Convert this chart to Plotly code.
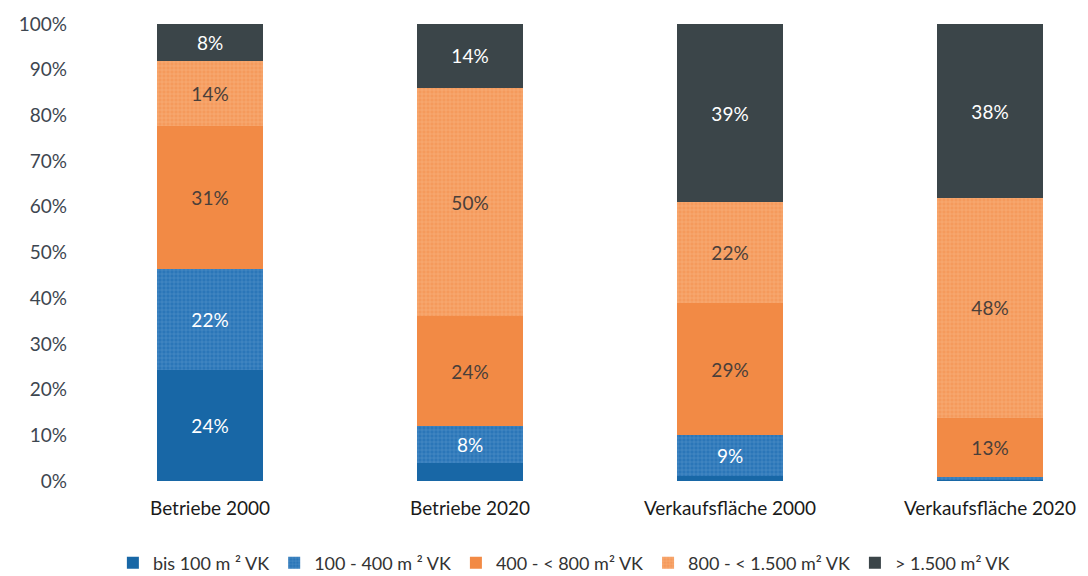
import plotly.graph_objects as go

categories = ["Betriebe 2000", "Betriebe 2020", "Verkaufsfläche 2000", "Verkaufsfläche 2020"]
bis100 = [24, 4, 1, 0.3]
v100_400 = [22, 8, 9, 0.5]
v400_800 = [31, 24, 29, 13]
v800_1500 = [14, 50, 22, 48]
ueber1500 = [8, 14, 39, 38]
series_names = ["bis 100 m ² VK", "100 - 400 m ² VK", "400 - < 800 m² VK",
                "800 - < 1.500 m² VK", "> 1.500 m² VK"]
tick_vals = [0, 10, 20, 30, 40, 50, 60, 70, 80, 90, 100]
tick_text = [f"{v}%" for v in tick_vals]

FONT = "Lato, Open Sans, sans-serif"

def labels(vals):
    return [f"{v:g}%" if v >= 5 else "" for v in vals]

styles = [
    dict(color="#1867A6", pattern=None, tc="white"),
    dict(color="#2B76B8", pattern=dict(shape="+", fgcolor="#7FB0DE", bgcolor="#2B76B8", size=4, solidity=0.25), tc="white"),
    dict(color="#F28A45", pattern=None, tc="#4a3f3a"),
    dict(color="#F59A5C", pattern=dict(shape="+", fgcolor="#FBC59A", bgcolor="#F59A5C", size=4, solidity=0.3), tc="#4a3f3a"),
    dict(color="#3B4549", pattern=None, tc="white"),
]

L, R, T, B = 68, 8, 24, 95

fig = go.Figure()
for name, vals, st in zip(series_names, [bis100, v100_400, v400_800, v800_1500, ueber1500], styles):
    marker = dict(color=st["color"], line=dict(width=0))
    if st["pattern"]:
        marker["pattern"] = st["pattern"]
    fig.add_trace(go.Bar(
        x=categories, y=vals, name=name, marker=marker, width=0.404,
        text=labels(vals), textposition="inside", insidetextanchor="middle",
        textangle=0, textfont=dict(family=FONT, size=19, color=st["tc"]),
        hoverinfo="skip",
    ))

fig.update_layout(
    width=1088, height=576,
    barmode="stack", barnorm="percent",
    plot_bgcolor="white", paper_bgcolor="white",
    margin=dict(l=L, r=R, t=T, b=B),
    font=dict(family=FONT, size=19, color="#3a3a3a"),
    uniformtext=dict(mode="show", minsize=10),
    xaxis=dict(range=[-(210 - L) / 260, 3 + (1088 - R - 990) / 260], showgrid=False, showline=False,
               tickfont=dict(family=FONT, size=19, color="#1a1a1a"), ticklabelstandoff=14),
    yaxis=dict(range=[0, 100], tickvals=tick_vals, ticktext=tick_text, showgrid=False,
               zeroline=False, showline=False, tickfont=dict(family=FONT, size=19, color="#3d4650")),
    legend=dict(orientation="h", x=0.49, xanchor="center", yref="container", y=1 - 563 / 576,
                yanchor="middle",
                font=dict(family=FONT, size=18, color="#333"), traceorder="normal",
                itemwidth=30, itemsizing="constant"),
)

fig.write_html("out.html")
